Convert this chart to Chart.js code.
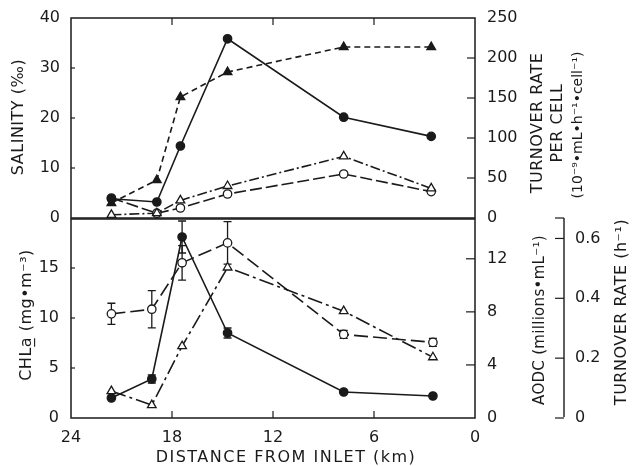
<!DOCTYPE html>
<html>
<head>
<meta charset="utf-8">
<script src="https://cdn.jsdelivr.net/npm/chart.js@4.4.0/dist/chart.umd.min.js"></script>
<style>
  body { margin: 0; background: #fff; }
  #wrap { position: relative; width: 640px; height: 466px; overflow: hidden; }
  #wrap canvas { position: absolute; left: 0; }
  #topChart { top: 0; }
  #bottomChart { top: 200px; }
</style>
</head>
<body>
<div id="wrap">
  <canvas id="topChart" width="640" height="240"></canvas>
  <canvas id="bottomChart" width="640" height="266"></canvas>
</div>
<script>
const FONT = 'DejaVu Sans';
const INK = '#1a1a1a';

// distance from inlet (km) of the stations
const distTop = [21.6, 18.9, 17.5, 14.7, 7.8, 2.6];
const distBottom = [21.6, 19.2, 17.4, 14.7, 7.8, 2.5];

// upper panel
const salinity = [3.0, 7.6, 24.2, 29.2, 34.2, 34.2];      // filled triangles
const cellRateA = [24, 20, 90, 224, 126, 102];           // filled circles
const cellRateB = [4, 6, 22, 40, 77, 37];                // open triangles
const cellRateC = [25, 6, 12.5, 30, 55, 33];             // open circles

// lower panel
const chla = [2.0, 3.9, 18.1, 8.5, 2.6, 2.2];
const chlaErr = [0, 0.4, 1.6, 0.5, 0, 0];
const aodc = [7.85, 8.2, 11.7, 13.2, 6.3, 5.7];
const aodcErr = [0.8, 1.4, 1.3, 1.6, 0.3, 0.3];
const turnoverRate = [0.09, 0.043, 0.24, 0.503, 0.357, 0.203];

// tick values
const distTicks = [24, 18, 12, 6, 0];
const salinityTicks = [0, 10, 20, 30, 40];
const cellTicks = [0, 50, 100, 150, 200, 250];
const chlaTicks = [0, 5, 10, 15];
const aodcTicks = [0, 4, 8, 12];
const rateTicks = [0, 0.2, 0.4, 0.6];

function pts(xs, ys) {
    return xs.map((x, i) => ({ x: x, y: ys[i] }));
}

function series(label, xs, ys, axis, style, filled, dash) {
    return {
        label: label,
        data: pts(xs, ys),
        yAxisID: axis,
        borderColor: INK,
        borderWidth: 1.6,
        borderDash: dash,
        pointStyle: style,
        pointRadius: style === 'triangle' ? 5 : 4.2,
        pointBackgroundColor: filled ? INK : '#fff',
        pointBorderColor: INK,
        pointBorderWidth: 1.3,
        tension: 0,
        fill: false
    };
}

// fixed axis sizes so both panels line up
function fixAxis(size, ticks) {
    return {
        afterBuildTicks: scale => { scale.ticks = ticks.map(v => ({ value: v })); },
        afterFit: scale => {
            if (scale.isHorizontal()) scale.height = size; else scale.width = size;
            scale.paddingTop = 0; scale.paddingBottom = 0;
            scale.paddingLeft = 0; scale.paddingRight = 0;
        }
    };
}

function yAxis(position, min, max, ticks, size, pad) {
    return Object.assign({
        type: 'linear', position: position, min: min, max: max,
        grid: { display: false, drawTicks: false },
        border: { display: false },
        ticks: { color: INK, font: { family: FONT, size: 16 }, padding: pad }
    }, fixAxis(size, ticks));
}

function vText(ctx, text, x, y, size, spacing) {
    ctx.save();
    ctx.translate(x, y);
    ctx.rotate(-Math.PI / 2);
    ctx.font = size + 'px ' + FONT;
    ctx.letterSpacing = (spacing || 0) + 'px';
    ctx.fillStyle = INK;
    ctx.textAlign = 'center';
    ctx.textBaseline = 'middle';
    ctx.fillText(text, 0, 0);
    ctx.restore();
}

// horizontal tick marks on a vertical axis
function yMarks(ctx, scale, values, x, len) {
    values.forEach(v => {
        const y = scale.getPixelForValue(v);
        ctx.beginPath(); ctx.moveTo(x, y); ctx.lineTo(x + len, y); ctx.stroke();
    });
}

function xMarks(ctx, scale, values, y, len) {
    values.forEach(v => {
        const x = scale.getPixelForValue(v);
        ctx.beginPath(); ctx.moveTo(x, y); ctx.lineTo(x, y + len); ctx.stroke();
    });
}

const topDecor = {
    id: 'topDecor',
    afterDraw(chart) {
        const ctx = chart.ctx, a = chart.chartArea, s = chart.scales;
        ctx.save();
        ctx.strokeStyle = INK;
        ctx.lineWidth = 1.5;
        ctx.strokeRect(a.left, a.top, a.right - a.left, a.bottom - a.top);
        ctx.lineWidth = 1.2;
        xMarks(ctx, s.x, [18, 12, 6], a.top, 7);
        yMarks(ctx, s.y, [10, 20, 30], a.left, 4);
        yMarks(ctx, s.y2, [50, 100, 150, 200], a.right, -8);
        ctx.restore();
        vText(ctx, 'SALINITY (‰)', 19, 117, 16, 0.5);
        vText(ctx, 'TURNOVER RATE', 538, 123, 16, 0.5);
        vText(ctx, 'PER CELL', 558, 123, 16, 0.5);
        vText(ctx, '(10⁻⁹•mL•h⁻¹•cell⁻¹)', 578, 125, 14);
    }
};

const bottomDecor = {
    id: 'bottomDecor',
    beforeDatasetsDraw(chart) {
        // error bars
        const ctx = chart.ctx, s = chart.scales;
        ctx.save();
        ctx.strokeStyle = INK;
        ctx.lineWidth = 1.3;
        const bars = [[chla, chlaErr, s.y], [aodc, aodcErr, s.y2]];
        bars.forEach(([vals, errs, ys]) => {
            vals.forEach((v, i) => {
                if (!errs[i]) return;
                const x = s.x.getPixelForValue(distBottom[i]);
                const y1 = ys.getPixelForValue(v + errs[i]);
                const y2 = ys.getPixelForValue(v - errs[i]);
                ctx.beginPath();
                ctx.moveTo(x, y1); ctx.lineTo(x, y2);
                ctx.moveTo(x - 4, y1); ctx.lineTo(x + 4, y1);
                ctx.moveTo(x - 4, y2); ctx.lineTo(x + 4, y2);
                ctx.stroke();
            });
        });
        ctx.restore();
    },
    afterDraw(chart) {
        const ctx = chart.ctx, a = chart.chartArea, s = chart.scales;
        ctx.save();
        ctx.strokeStyle = INK;
        ctx.lineWidth = 1.5;
        ctx.strokeRect(a.left, a.top, a.right - a.left, a.bottom - a.top);
        ctx.lineWidth = 1.2;
        xMarks(ctx, s.x, [18, 12, 6], a.bottom, -7);
        yMarks(ctx, s.y, [5, 10, 15], a.left, 4);
        yMarks(ctx, s.y2, [4, 8, 12], a.right, -9);
        // separate turnover-rate axis
        const ax = s.y3.left;
        ctx.lineWidth = 1.4;
        ctx.beginPath(); ctx.moveTo(ax, a.top - 1); ctx.lineTo(ax, a.bottom - 1); ctx.stroke();
        ctx.lineWidth = 1.2;
        yMarks(ctx, s.y3, rateTicks, ax, -9);
        ctx.beginPath(); ctx.moveTo(ax, a.top - 1); ctx.lineTo(ax - 9, a.top - 1); ctx.stroke();
        ctx.restore();
        vText(ctx, 'CHLa̲ (mg•m⁻³)', 27, 115, 16, 0.5);
        vText(ctx, 'AODC (millions•mL⁻¹)', 540, 120, 15, 0.3);
        vText(ctx, 'TURNOVER RATE (h⁻¹)', 622, 112, 16, 0.5);
        ctx.save();
        ctx.font = '16px ' + FONT;
        ctx.letterSpacing = '1.5px';
        ctx.fillStyle = INK;
        ctx.textAlign = 'center';
        ctx.textBaseline = 'middle';
        ctx.fillText('DISTANCE FROM INLET (km)', 286, 258);
        ctx.restore();
    }
};

const commonPlugins = { legend: { display: false }, tooltip: { enabled: false } };

new Chart(document.getElementById('topChart'), {
    type: 'line',
    data: {
        datasets: [
            series('Turnover per cell (filled circles)', distTop, cellRateA, 'y2', 'circle', true, []),
            series('Salinity', distTop, salinity, 'y', 'triangle', true, [6, 4]),
            series('Turnover per cell (open triangles)', distTop, cellRateB, 'y2', 'triangle', false, [10, 3, 2, 3]),
            series('Turnover per cell (open circles)', distTop, cellRateC, 'y2', 'circle', false, [12, 4])
        ]
    },
    options: {
        responsive: false,
        animation: false,
        layout: { padding: { top: 18, bottom: 22, left: 0, right: 0 } },
        plugins: commonPlugins,
        scales: {
            x: { type: 'linear', min: 0, max: 24, reverse: true, display: false },
            y: yAxis('left', 0, 40, salinityTicks, 71, 11),
            y2: yAxis('right', 0, 250, cellTicks, 165, 12)
        }
    },
    plugins: [topDecor]
});

new Chart(document.getElementById('bottomChart'), {
    type: 'line',
    data: {
        datasets: [
            series('CHLa', distBottom, chla, 'y', 'circle', true, []),
            series('AODC', distBottom, aodc, 'y2', 'circle', false, [14, 5]),
            series('Turnover rate', distBottom, turnoverRate, 'y3', 'triangle', false, [15, 4, 3, 4])
        ]
    },
    options: {
        responsive: false,
        animation: false,
        layout: { padding: { top: 19, bottom: 0, left: 0, right: 0 } },
        plugins: commonPlugins,
        scales: {
            x: Object.assign({
                type: 'linear', min: 0, max: 24, reverse: true, position: 'bottom',
                grid: { display: false, drawTicks: false },
                border: { display: false },
                ticks: { color: INK, font: { family: FONT, size: 16 }, padding: 10, maxRotation: 0 }
            }, fixAxis(48, distTicks)),
            y: yAxis('left', 0, 19.9, chlaTicks, 71, 12),
            y2: Object.assign(yAxis('right', 0, 15, aodcTicks, 89, 12), { weight: 0 }),
            y3: Object.assign(yAxis('right', 0, 0.665, rateTicks, 76, 11), { weight: 1 })
        }
    },
    plugins: [bottomDecor]
});
</script>
</body>
</html>
